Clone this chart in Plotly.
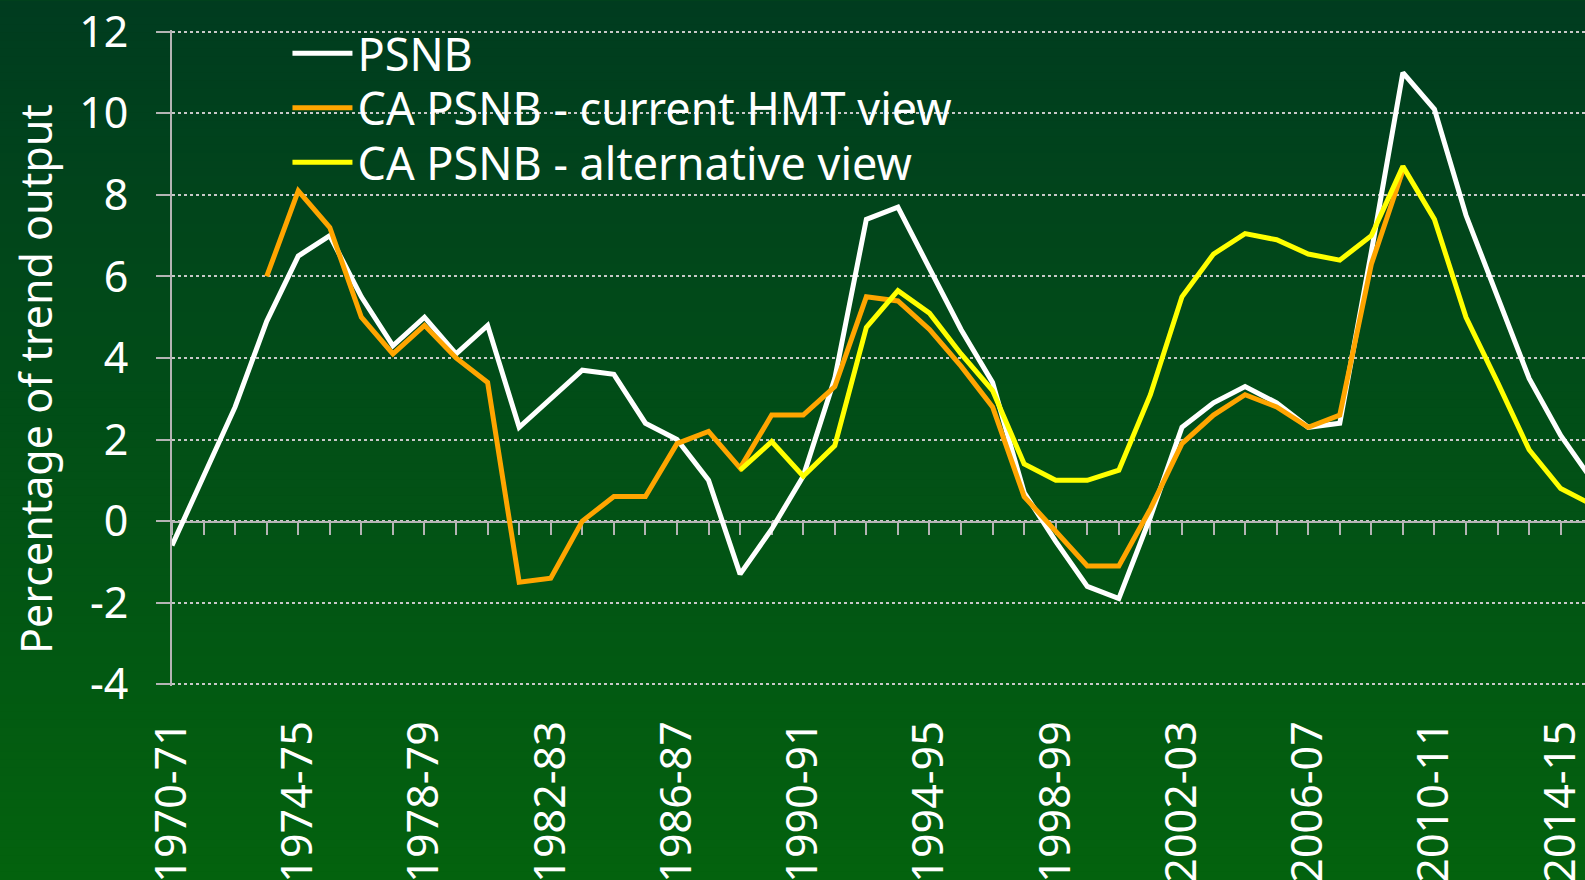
import plotly.graph_objects as go

categories = [f"{y}-{str(y + 1)[-2:]}" for y in range(1970, 2016)]

psnb = [-0.6, 1.1, 2.8, 4.9, 6.5, 7.0, 5.5, 4.3, 5.0, 4.1,
        4.8, 2.3, 3.0, 3.7, 3.6, 2.4, 2.0, 1.0, -1.3, -0.2,
        1.1, 3.5, 7.4, 7.7, 6.2, 4.7, 3.4, 0.7, -0.5, -1.6,
        -1.9, 0.1, 2.3, 2.9, 3.3, 2.9, 2.3, 2.4, 6.6, 11.0,
        10.1, 7.5, 5.5, 3.5, 2.1, 1.0]

ca_hmt = [None, None, None, 6.0, 8.1, 7.2, 5.0, 4.1, 4.8, 4.0,
          3.4, -1.5, -1.4, 0.0, 0.6, 0.6, 1.9, 2.2, 1.3, 2.6,
          2.6, 3.3, 5.5, 5.4, 4.7, 3.8, 2.8, 0.6, -0.25, -1.1,
          -1.1, 0.3, 1.9, 2.6, 3.1, 2.8, 2.3, 2.6, 6.3, 8.6,
          None, None, None, None, None, None]

ca_alt = [None] * 18 + [1.25, 1.95,
          1.1, 1.85, 4.75, 5.65, 5.1, 4.1, 3.2, 1.4, 1.0, 1.0,
          1.25, 3.1, 5.5, 6.55, 7.05, 6.9, 6.55, 6.4, 7.0, 8.7,
          7.4, 5.0, 3.4, 1.75, 0.8, 0.4]

series_names = ["PSNB", "CA PSNB - current HMT view", "CA PSNB - alternative view"]
series_colors = ["#FFFFFF", "#FFA500", "#FFFF00"]

ytick_vals = [-4, -2, 0, 2, 4, 6, 8, 10, 12]
ytick_text = ["-4", "-2", "0", "2", "4", "6", "8", "10", "12"]

x_idx = list(range(len(categories)))
label_idx = x_idx[::4]
label_text = categories[::4]

W, H = 1585, 880
ML, MT, MB, MR = 171.5, 29.7, 193.5, 0
plot_h = H - MT - MB
plot_w = W - ML - MR

FONT = "Noto Sans"
FS = 43
LFS = 45

fig = go.Figure()

# invisible trace to create the zero-crossing category axis (x2)
fig.add_trace(go.Scatter(x=x_idx, y=psnb, xaxis="x2", yaxis="y", mode="lines",
                         opacity=0, showlegend=False, hoverinfo="skip"))

legend_ids = ["legend", "legend2", "legend3"]
for name, vals, col, lg in zip(series_names, [psnb, ca_hmt, ca_alt],
                               series_colors, legend_ids):
    fig.add_trace(go.Scatter(x=x_idx, y=vals, name=name, mode="lines",
                             line=dict(color=col, width=5), connectgaps=False,
                             legend=lg))

# vertical gradient background
top = (0, 60, 31)
bot = (3, 98, 14)
nb = 110
y_top = 1 + MT / plot_h
y_bot = -MB / plot_h
shapes = []
for k in range(nb):
    t = k / (nb - 1)
    c = tuple(round(top[j] + (bot[j] - top[j]) * t) for j in range(3))
    y0 = y_top - (y_top - y_bot) * k / nb
    y1 = y_top - (y_top - y_bot) * (k + 1) / nb
    shapes.append(dict(type="rect", xref="paper", yref="paper",
                       x0=-ML / plot_w - 0.01, x1=1.01, y0=y1 - 0.002, y1=y0,
                       fillcolor="rgb(%d,%d,%d)" % c, line=dict(width=0),
                       layer="below"))

row_centers = [53.3, 107.7, 162.3]
legend_x = (287 - ML) / plot_w


def leg(yc):
    return dict(x=legend_x, y=(H - MB - yc) / plot_h, xanchor="left",
                yanchor="middle", bgcolor="rgba(0,0,0,0)",
                font=dict(size=LFS, color="white", family=FONT),
                itemwidth=60)


fig.update_layout(
    width=W, height=H,
    margin=dict(l=ML, r=MR, t=MT, b=MB, pad=0),
    paper_bgcolor="rgb(2,80,23)",
    plot_bgcolor="rgba(0,0,0,0)",
    font=dict(family=FONT, color="white", size=FS),
    shapes=shapes,
    showlegend=True,
    legend=leg(row_centers[0]),
    legend2=leg(row_centers[1]),
    legend3=leg(row_centers[2]),
    xaxis=dict(range=[0, 44.77], tickmode="array", tickvals=label_idx,
               ticktext=label_text, tickangle=-90, ticks="outside",
               ticklen=17, tickcolor="rgba(0,0,0,0)", showgrid=False,
               zeroline=False, showline=False, automargin=False,
               ticklabeloverflow="allow",
               tickfont=dict(size=FS, color="white", family=FONT)),
    xaxis2=dict(range=[0, 44.77], overlaying="x", anchor="free",
                position=0.25, tickmode="linear", tick0=0, dtick=1,
                ticks="outside", ticklen=12, tickwidth=2, tickcolor="#b4b4b4",
                showticklabels=False, showline=True, linecolor="#b4b4b4",
                linewidth=2, showgrid=False, zeroline=False,
                layer="below traces"),
    yaxis=dict(range=[-4.045, 12.045], tickmode="array", tickvals=ytick_vals,
               ticktext=ytick_text, ticks="outside", ticklen=14, tickwidth=2,
               tickcolor="#b4b4b4", showline=True, linecolor="#b4b4b4",
               linewidth=2, showgrid=True, gridcolor="#c8c8c8", gridwidth=1.5,
               griddash="dot", zeroline=False, automargin=False,
               ticklabelstandoff=19, ticklabeloverflow="allow",
               layer="below traces",
               tickfont=dict(size=FS, color="white", family=FONT)),
    annotations=[dict(text="Percentage of trend output", xref="paper",
                      yref="paper", x=(35.5 - ML) / plot_w,
                      y=(H - MB - 379) / plot_h, textangle=-90,
                      showarrow=False, xanchor="center", yanchor="middle",
                      font=dict(size=FS, color="white", family=FONT))],
)

fig.write_html("out.html",
               config={"displayModeBar": False},
               post_script="document.body.style.margin='0';"
                           "document.body.style.padding='0';"
                           "document.body.style.overflow='hidden';")
